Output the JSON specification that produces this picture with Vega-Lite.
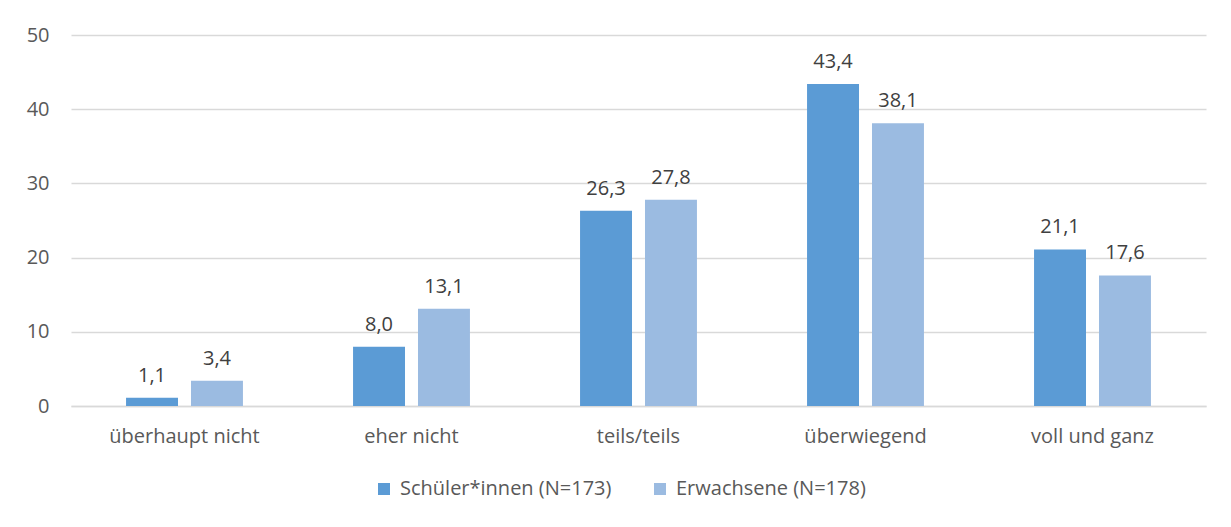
{
  "$schema": "https://vega.github.io/schema/vega-lite/v6.json",
  "width": 1135,
  "height": 371,
  "padding": {"left": 26, "top": 25, "right": 4, "bottom": 5},
  "autosize": {"type": "pad"},
  "background": "white",
  "config": {
    "font": "Open Sans",
    "view": {"stroke": null},
    "locale": {"number": {"decimal": ",", "thousands": ".", "grouping": [3], "currency": ["", " €"]}}
  },
  "data": {
    "values": [
      {"antwort": "überhaupt nicht", "gruppe": "Schüler*innen (N=173)", "wert": 1.1},
      {"antwort": "überhaupt nicht", "gruppe": "Erwachsene (N=178)", "wert": 3.4},
      {"antwort": "eher nicht", "gruppe": "Schüler*innen (N=173)", "wert": 8.0},
      {"antwort": "eher nicht", "gruppe": "Erwachsene (N=178)", "wert": 13.1},
      {"antwort": "teils/teils", "gruppe": "Schüler*innen (N=173)", "wert": 26.3},
      {"antwort": "teils/teils", "gruppe": "Erwachsene (N=178)", "wert": 27.8},
      {"antwort": "überwiegend", "gruppe": "Schüler*innen (N=173)", "wert": 43.4},
      {"antwort": "überwiegend", "gruppe": "Erwachsene (N=178)", "wert": 38.1},
      {"antwort": "voll und ganz", "gruppe": "Schüler*innen (N=173)", "wert": 21.1},
      {"antwort": "voll und ganz", "gruppe": "Erwachsene (N=178)", "wert": 17.6}
    ]
  },
  "encoding": {
    "x": {
      "field": "antwort", "type": "nominal",
      "sort": ["überhaupt nicht", "eher nicht", "teils/teils", "überwiegend", "voll und ganz"],
      "scale": {"paddingInner": 0.485, "paddingOuter": 0.2425},
      "axis": {"title": null, "labelAngle": 0, "ticks": false, "domainColor": "#D9D9D9", "domainWidth": 1.5, "labelColor": "#595959", "labelFontSize": 20, "labelPadding": 20}
    },
    "xOffset": {
      "field": "gruppe", "type": "nominal",
      "sort": ["Schüler*innen (N=173)", "Erwachsene (N=178)"],
      "scale": {"paddingInner": 0.2, "paddingOuter": 0}
    },
    "y": {
      "field": "wert", "type": "quantitative",
      "scale": {"domain": [0, 50], "nice": false},
      "axis": {"title": null, "values": [0, 10, 20, 30, 40, 50], "ticks": false, "domain": false, "gridColor": "#D9D9D9", "gridWidth": 1.5, "labelColor": "#595959", "labelFontSize": 20, "labelPadding": 22, "format": "d"}
    }
  },
  "layer": [
    {
      "mark": {"type": "bar"},
      "encoding": {
        "color": {
          "field": "gruppe", "type": "nominal",
          "sort": ["Schüler*innen (N=173)", "Erwachsene (N=178)"],
          "scale": {"range": ["#5B9BD5", "#9BBBE1"]},
          "legend": {"title": null, "orient": "none", "legendX": 303, "legendY": 444, "direction": "horizontal", "symbolType": "square", "symbolSize": 144, "symbolStrokeWidth": 0, "symbolOpacity": 1, "labelFontSize": 20, "labelColor": "#595959", "labelOffset": 6, "labelLimit": 0, "columnPadding": 38}
        }
      }
    },
    {
      "mark": {"type": "text", "baseline": "bottom", "dy": -12, "fontSize": 20, "color": "#404040"},
      "encoding": {
        "text": {"field": "wert", "type": "quantitative", "format": ".1f"}
      }
    }
  ]
}
